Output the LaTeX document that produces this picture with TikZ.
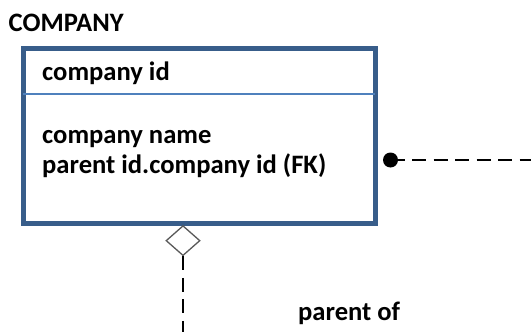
\documentclass[tikz,border=0pt]{standalone}
\usepackage{fontspec}
\setmainfont{Carlito}
\usetikzlibrary{shapes.geometric}
\definecolor{entityblue}{RGB}{56,93,138}
\definecolor{keyblue}{RGB}{79,129,189}
\begin{document}
\begin{tikzpicture}[
    x=1pt, y=-1pt,
    label/.style={anchor=base west, inner sep=0pt, font=\fontsize{26.6}{30}\selectfont\bfseries},
    entity/.style={rectangle, draw=entityblue, line width=5pt, minimum width=352pt, minimum height=175pt, inner sep=0pt},
    nullable/.style={diamond, draw=black!65, line width=1.3pt, fill=white, minimum width=34pt, minimum height=30pt, inner sep=0pt},
    mandatory/.style={circle, fill=black, minimum size=15pt, inner sep=0pt},
    relline/.style={line width=2.2pt, dash pattern=on 14pt off 7.5pt}
]
\useasboundingbox (0,0) rectangle (531,332);

% entity COMPANY
\node[label] (title) at (8.5,31) {COMPANY};
\node[entity] (company) at (199,135.5) {};
\draw[keyblue, line width=2.5pt] (23,94) -- (375,94);
\node[label] (pk) at (42,80) {company id};
\node[label] (name) at (42,143) {company name};
\node[label] (fk) at (42,173.5) {parent id.company id (FK)};

% relationship ends
\node[mandatory] (child) at (390.5,160) {};
\coordinate (childend) at (531,160);
\node[nullable, anchor=north] (parent) at (183,225) {};
\coordinate (parentend) at (183,332);
\draw[relline] (child.center) -- (childend);
\draw[relline] (parent.south) -- (parentend);
\node[label] (rel) at (298,320) {parent of};
\end{tikzpicture}
\end{document}
